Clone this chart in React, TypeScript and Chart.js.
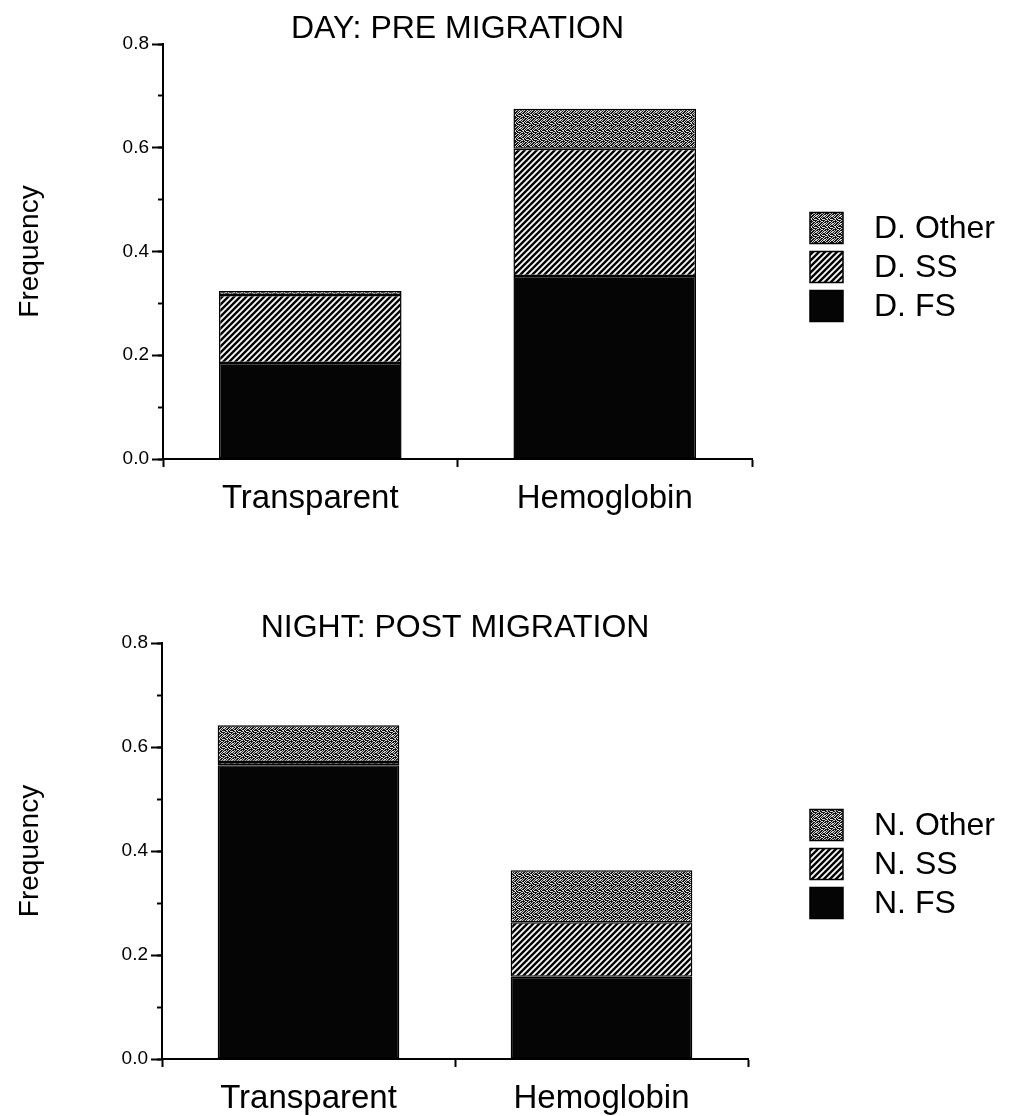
import { useEffect, useRef } from 'react';
import { Chart, registerables } from 'chart.js';

Chart.register(...registerables);

const FONT = '"Liberation Sans", Arial, Helvetica, sans-serif';
Chart.defaults.font.family = FONT;
Chart.defaults.color = '#000';

// ---- data ----
const categories = ['Transparent', 'Hemoglobin'];
const yTicks = [0, 0.2, 0.4, 0.6, 0.8];
const axisTitle = 'Frequency';

const dayTitle = 'DAY: PRE MIGRATION';
const dayLabels = ['D. FS', 'D. SS', 'D. Other'];
const dayFS = [0.185, 0.353];
const daySS = [0.131, 0.245];
const dayOther = [0.008, 0.077];

const nightTitle = 'NIGHT: POST MIGRATION';
const nightLabels = ['N. FS', 'N. SS', 'N. Other'];
const nightFS = [0.565, 0.158];
const nightSS = [0.006, 0.105];
const nightOther = [0.071, 0.1];

// ---- layout ----
const PAGE_W = 1009;
const PAGE_H = 1116;

const dayFrame = { top: 0, height: 560, left: 163, right: 752, plotTop: 44, plotBottom: 459, legendY: 267 };
const nightFrame = { top: 560, height: 556, left: 162, right: 748, plotTop: 83, plotBottom: 499, legendY: 304 };

// ---- fills ----
const STIPPLE = [
  '10100101',
  '01001010',
  '00110100',
  '10010011',
  '01101000',
  '10000110',
  '00101001',
  '11010010',
];

function stipplePattern(ctx: CanvasRenderingContext2D): CanvasPattern {
  const c = document.createElement('canvas');
  c.width = 8;
  c.height = 8;
  const g = c.getContext('2d') as CanvasRenderingContext2D;
  g.fillStyle = '#141414';
  g.fillRect(0, 0, 8, 8);
  g.fillStyle = '#d6d6d6';
  STIPPLE.forEach((row, y) => {
    row.split('').forEach((v, x) => {
      if (v === '1') g.fillRect(x, y, 1, 1);
    });
  });
  return ctx.createPattern(c, 'repeat') as CanvasPattern;
}

function hatchPattern(ctx: CanvasRenderingContext2D): CanvasPattern {
  const s = 6;
  const c = document.createElement('canvas');
  c.width = s;
  c.height = s;
  const g = c.getContext('2d') as CanvasRenderingContext2D;
  g.fillStyle = '#050505';
  g.fillRect(0, 0, s, s);
  g.strokeStyle = '#ffffff';
  g.lineWidth = 1.8;
  g.beginPath();
  g.moveTo(0, s);
  g.lineTo(s, 0);
  g.moveTo(-s / 2, s / 2);
  g.lineTo(s / 2, -s / 2);
  g.moveTo(s / 2, s * 1.5);
  g.lineTo(s * 1.5, s / 2);
  g.stroke();
  return ctx.createPattern(c, 'repeat') as CanvasPattern;
}

// Title above the plot and a pattern-swatch legend on the right
const panelText = {
  id: 'panelText',
  afterDraw(chart: any, _args: any, opts: any) {
    const { ctx, chartArea } = chart;
    ctx.save();
    ctx.fillStyle = '#000';
    ctx.font = `32px ${FONT}`;
    ctx.textAlign = 'center';
    ctx.textBaseline = 'alphabetic';
    ctx.fillText(opts.title, (chartArea.left + chartArea.right) / 2, chartArea.top - 6);

    const items = chart.data.datasets.slice().reverse();
    const step = 39;
    const bw = 33;
    const bh = 31;
    const bx = 810;
    items.forEach((ds: any, i: number) => {
      const cy = opts.legendY + (i - 1) * step;
      ctx.fillStyle = ds.backgroundColor;
      ctx.fillRect(bx, cy - bh / 2, bw, bh);
      ctx.strokeStyle = '#000';
      ctx.lineWidth = 1.5;
      ctx.strokeRect(bx, cy - bh / 2, bw, bh);
      ctx.fillStyle = '#000';
      ctx.font = `32px ${FONT}`;
      ctx.textAlign = 'left';
      ctx.textBaseline = 'middle';
      ctx.fillText(ds.label, 874, cy + 1);
    });
    ctx.restore();
  },
};

type PanelProps = {
  title: string;
  labels: string[];
  fs: number[];
  ss: number[];
  other: number[];
  frame: typeof dayFrame;
};

function Panel({ title, labels, fs, ss, other, frame }: PanelProps) {
  const ref = useRef<HTMLCanvasElement>(null);

  useEffect(() => {
    const canvas = ref.current as HTMLCanvasElement;
    const ctx = canvas.getContext('2d') as CanvasRenderingContext2D;
    const hatch = hatchPattern(ctx);
    const stipple = stipplePattern(ctx);

    const chart = new Chart(ctx, {
      type: 'bar',
      data: {
        labels: categories,
        datasets: [
          { label: labels[0], data: fs, backgroundColor: '#050505' },
          { label: labels[1], data: ss, backgroundColor: hatch },
          { label: labels[2], data: other, backgroundColor: stipple },
        ],
      },
      options: {
        responsive: false,
        animation: false,
        devicePixelRatio: 1,
        layout: {
          padding: { top: frame.plotTop, right: PAGE_W - frame.right, bottom: 0, left: 0 },
        },
        datasets: {
          bar: {
            barPercentage: 0.62,
            categoryPercentage: 1,
            borderColor: '#000',
            borderWidth: 1.5,
            borderSkipped: false,
          },
        },
        plugins: {
          legend: { display: false },
          tooltip: { enabled: false },
          title: { display: false },
          panelText: { title, legendY: frame.legendY },
        } as any,
        scales: {
          x: {
            type: 'category',
            stacked: true,
            offset: true,
            grid: { offset: true, drawOnChartArea: false, tickLength: 8, tickWidth: 2, tickColor: '#000' },
            border: { color: '#000', width: 2 },
            ticks: { color: '#000', font: { size: 33 }, padding: 12, maxRotation: 0 },
            afterFit: (s: any) => {
              s.height = frame.height - frame.plotBottom;
            },
          },
          y: {
            type: 'linear',
            stacked: true,
            min: 0,
            max: 0.8,
            position: 'left',
            weight: 1,
            afterBuildTicks: (s: any) => {
              s.ticks = yTicks.map((v) => ({ value: v }));
            },
            ticks: {
              color: '#000',
              font: { size: 19 },
              padding: 3,
              callback: (v: any) => Number(v).toFixed(1),
            },
            grid: { drawOnChartArea: false, tickLength: 11, tickWidth: 2, tickColor: '#000' },
            border: { color: '#000', width: 2 },
            title: {
              display: true,
              text: axisTitle,
              color: '#000',
              font: { size: 28 },
              padding: { top: 13, bottom: 0 },
            },
            afterFit: (s: any) => {
              s.width = frame.left;
            },
          },
          yMinor: {
            type: 'linear',
            min: 0,
            max: 0.8,
            position: 'left',
            weight: 0,
            ticks: { display: false, stepSize: 0.1 },
            grid: { drawOnChartArea: false, tickLength: 5, tickWidth: 2, tickColor: '#000' },
            border: { display: false },
            afterFit: (s: any) => {
              s.width = 0;
            },
          },
        } as any,
      },
      plugins: [panelText],
    });

    return () => chart.destroy();
  }, []);

  return (
    <canvas
      ref={ref}
      width={PAGE_W}
      height={frame.height}
      style={{ position: 'absolute', left: 0, top: frame.top, width: PAGE_W, height: frame.height }}
    />
  );
}

export default function App() {
  return (
    <div style={{ position: 'absolute', left: 0, top: 0, width: PAGE_W, height: PAGE_H, background: '#fff' }}>
      <Panel title={dayTitle} labels={dayLabels} fs={dayFS} ss={daySS} other={dayOther} frame={dayFrame} />
      <Panel title={nightTitle} labels={nightLabels} fs={nightFS} ss={nightSS} other={nightOther} frame={nightFrame} />
    </div>
  );
}
